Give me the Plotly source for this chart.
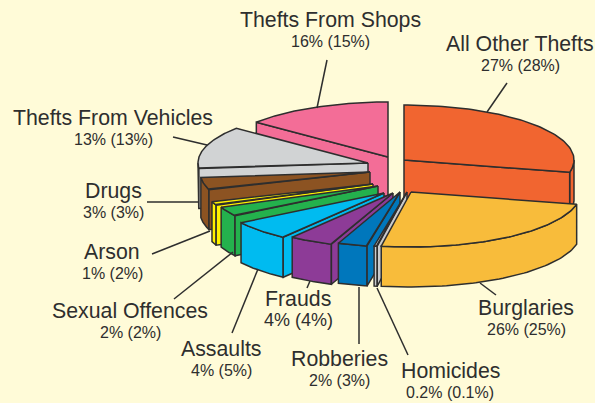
import numpy as np
import plotly.graph_objects as go

# Data
categories = ["All Other Thefts", "Burglaries", "Homicides", "Robberies", "Frauds", "Assaults",
              "Sexual Offences", "Arson", "Drugs", "Thefts From Vehicles", "Thefts From Shops"]
label_this_year = ["27%", "26%", "0.2%", "2%", "4%", "4%", "2%", "1%", "3%", "13%", "16%"]
label_last_year = ["28%", "25%", "0.1%", "3%", "4%", "5%", "2%", "2%", "3%", "13%", "15%"]
# Share of the circle each wedge takes as drawn
drawn_share = [28.6, 24.2, 0.3, 2.8, 4.2, 5.8, 2.8, 1.1, 3.6, 12.5, 14.1]

# Styling and layout
colors = ["#F16530", "#F8BC3B", "#C9CBCD", "#0077BC", "#8D3B97", "#00BBF0",
          "#24B14D", "#FFF200", "#8C5322", "#D1D3D4", "#F36D97"]
CX, CY, RX, RY, DEPTH = 395, 175, 170, 55, 40
pull_x = [9, 16, 12, 5, -2, -11, -17, -22, -25, -27, -7]
pull_y = [-15, 17, 17, 17, 18, 18, 11, 9, -3, -12, -18]
draw_order = [0, 10, 9, 8, 7, 6, 5, 4, 3, 2, 1]
INK = "#2E2E2E"
BG = "#FFFBD8"
title_xy = [(520, 44), (526, 308), (450, 371), (339, 359), (298, 299), (221, 349),
            (130, 311), (112, 252), (113, 191), (113, 118), (330, 20)]
sub_sizes = [16, 16, 16, 16, 18, 16, 16, 16, 16, 16, 16]
sub_gap = 21
leaders = [((507, 83), (487, 112)), ((496, 295), (480, 283)), ((408, 355), (377, 288)),
           ((359, 344), (359, 287)), ((307, 288), (310, 281)), ((232, 333), (258, 269)),
           ((174, 299), (233, 252)), ((152, 254), (210, 231)), ((147, 202), (199, 202)),
           ((173, 137), (207, 145)), ((327, 60), (317, 108))]

fig = go.Figure()


def poly(xs, ys, color):
    fig.add_trace(go.Scatter(x=list(xs), y=list(ys), mode="lines", fill="toself",
                             fillcolor=color, line=dict(color=INK, width=1.5),
                             hoverinfo="skip", showlegend=False))


degrees = np.array(drawn_share) / sum(drawn_share) * 360
ends = np.cumsum(degrees)
starts = ends - degrees

for i in draw_order:
    t0, t1 = starts[i], ends[i]
    ax, ay = CX + pull_x[i], CY + pull_y[i]

    def rim(t):
        r = np.radians(t)
        return ax + RX * np.sin(r), ay - RY * np.cos(r)

    # curved outer wall, only where it faces the viewer
    lo, hi = max(t0, 90), min(t1, 270)
    if hi > lo:
        ts = np.linspace(lo, hi, 60)
        x, y = rim(ts)
        poly(np.r_[x, x[::-1], x[0]], np.r_[y, (y + DEPTH)[::-1], y[0]], colors[i])
    # flat cut faces that look towards the viewer
    for t, visible in ((t0, np.sin(np.radians(t0)) < -1e-6), (t1, np.sin(np.radians(t1)) > 1e-6)):
        if visible:
            x, y = rim(t)
            poly([ax, x, x, ax, ax], [ay, y, y + DEPTH, ay + DEPTH, ay], colors[i])
    # top surface
    ts = np.linspace(t0, t1, 80)
    x, y = rim(ts)
    poly(np.r_[ax, x, ax], np.r_[ay, y, ay], colors[i])

for (p, q) in leaders:
    fig.add_shape(type="line", x0=p[0], y0=p[1], x1=q[0], y1=q[1], xref="x", yref="y",
                  line=dict(color=INK, width=1.5))

for name, a, b, (x, y), s in zip(categories, label_this_year, label_last_year, title_xy, sub_sizes):
    fig.add_annotation(x=x, y=y, text=name, showarrow=False, xref="x", yref="y",
                       font=dict(family="Liberation Sans", size=21.3, color=INK))
    fig.add_annotation(x=x, y=y + sub_gap, text=f"{a} ({b})", showarrow=False, xref="x", yref="y",
                       font=dict(family="Liberation Sans", size=s, color=INK))

fig.update_layout(width=595, height=403, margin=dict(l=0, r=0, t=0, b=0),
                  paper_bgcolor=BG, plot_bgcolor=BG, showlegend=False,
                  xaxis=dict(range=[0, 595], visible=False, fixedrange=True),
                  yaxis=dict(range=[403, 0], visible=False, fixedrange=True))
fig.write_html("out.html", config={"displayModeBar": False},
               post_script="document.body.style.margin='0';document.body.style.background='%s';" % BG)
